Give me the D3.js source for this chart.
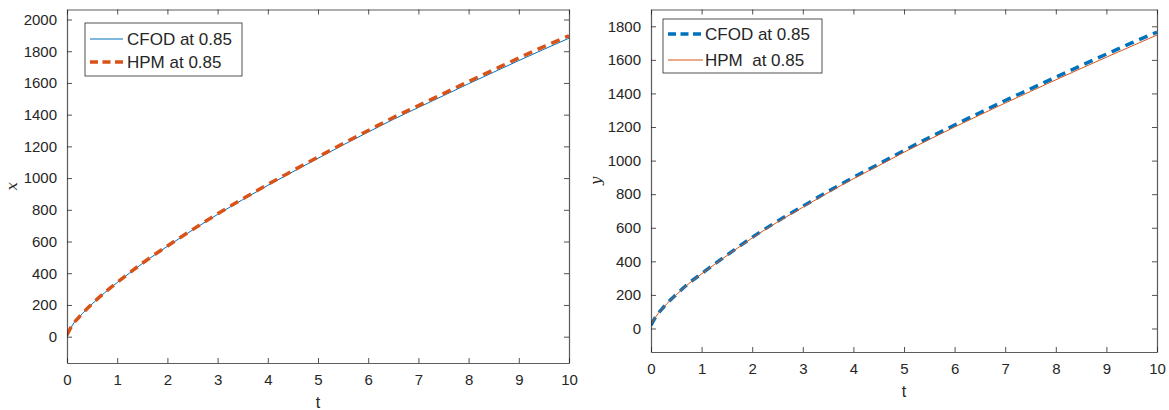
<!DOCTYPE html>
<html>
<head>
<meta charset="utf-8">
<script src="https://cdn.jsdelivr.net/npm/d3@7"></script>
<style>
  body { margin: 0; background: #fff; }
  svg text { font-family: "Liberation Sans", Arial, sans-serif; fill: #262626; }
</style>
</head>
<body>
<svg id="chart" width="1169" height="410"></svg>
<script>
const tValues = [0, 0.1, 0.25, 0.5, 0.75, 1, 1.5, 2, 2.5, 3, 3.5, 4, 4.5, 5, 5.5, 6, 6.5, 7, 7.5, 8, 8.5, 9, 9.5, 10];

// left panel: x(t)
const xCFOD = [0, 68, 126, 206, 277, 341, 461, 570, 672, 771, 864, 954, 1040, 1125, 1209, 1290, 1370, 1445, 1520, 1595, 1668, 1741, 1812, 1882];
const xHPM  = [10, 70, 127, 207, 278, 342, 463, 572, 675, 775, 869, 960, 1047, 1133, 1218, 1300, 1382, 1457, 1533, 1609, 1683, 1757, 1829, 1897];

// right panel: y(t)
const yCFOD = [20, 72, 128, 203, 270, 327, 437, 543, 639, 728, 816, 900, 979, 1060, 1137, 1212, 1285, 1358, 1427, 1497, 1566, 1634, 1701, 1765];
const yHPM  = [25, 72, 127, 201, 268, 325, 434, 539, 634, 722, 809, 892, 970, 1050, 1126, 1200, 1272, 1343, 1412, 1481, 1549, 1616, 1682, 1748];

const tTicks = [0, 1, 2, 3, 4, 5, 6, 7, 8, 9, 10];
const xTicks = [0, 200, 400, 600, 800, 1000, 1200, 1400, 1600, 1800, 2000];
const yTicks = [0, 200, 400, 600, 800, 1000, 1200, 1400, 1600, 1800];

const blue = "#0072BD";
const orange = "#D95319";
const axisColor = "#262626";

const svg = d3.select("#chart");

function drawPanel(opt) {
  const { left, right, top, bottom, yDomain, yTickVals, yLabel, series, legend, id } = opt;

  const x = d3.scaleLinear().domain([0, 10]).range([left, right]);
  const y = d3.scaleLinear().domain(yDomain).range([bottom, top]);

  const g = svg.append("g");

  g.append("clipPath").attr("id", id)
    .append("rect")
    .attr("x", left).attr("y", top)
    .attr("width", right - left).attr("height", bottom - top);

  const line = d3.line()
    .x((d, i) => x(tValues[i]))
    .y(d => y(d))
    .curve(d3.curveMonotoneX);

  series.forEach(s => {
    g.append("path")
      .datum(s.values)
      .attr("clip-path", `url(#${id})`)
      .attr("fill", "none")
      .attr("stroke", s.color)
      .attr("stroke-width", s.dashed ? 3.5 : 1)
      .attr("stroke-dasharray", s.dashed ? "9,6" : null)
      .attr("d", line);
  });

  // axes (MATLAB style box with inward ticks)
  const fmt = d3.format("d");
  const bottomAxis = d3.axisBottom(x).tickValues(tTicks).tickFormat(fmt).tickSizeInner(-5).tickSizeOuter(0).tickPadding(11);
  const topAxis = d3.axisTop(x).tickValues(tTicks).tickSizeInner(-5).tickSizeOuter(0).tickFormat("");
  const leftAxis = d3.axisLeft(y).tickValues(yTickVals).tickFormat(fmt).tickSizeInner(-5).tickSizeOuter(0).tickPadding(10);
  const rightAxis = d3.axisRight(y).tickValues(yTickVals).tickSizeInner(-5).tickSizeOuter(0).tickFormat("");

  const axes = [
    g.append("g").attr("transform", `translate(0,${bottom})`).call(bottomAxis),
    g.append("g").attr("transform", `translate(0,${top})`).call(topAxis),
    g.append("g").attr("transform", `translate(${left},0)`).call(leftAxis),
    g.append("g").attr("transform", `translate(${right},0)`).call(rightAxis)
  ];
  axes.forEach(a => {
    a.select(".domain").attr("stroke", axisColor).attr("stroke-width", 1.2).attr("opacity", 0.75);
    a.selectAll(".tick line").attr("stroke", axisColor).attr("stroke-width", 0.8);
    a.selectAll(".tick text")
      .style("font-family", "'Liberation Sans', Arial, sans-serif")
      .style("font-size", "15px")
      .attr("fill", "#3a3a3a");
  });

  g.append("text")
    .attr("x", (left + right) / 2)
    .attr("y", bottom + 45)
    .attr("text-anchor", "middle")
    .style("font-size", "16px")
    .text("t");

  g.append("text")
    .attr("transform", `translate(${left - 50},${(top + bottom) / 2}) rotate(-90)`)
    .attr("text-anchor", "middle")
    .style("font-family", "'DejaVu Serif', serif")
    .style("font-style", "italic")
    .style("font-size", "15px")
    .text(yLabel);

  // legend
  const lg = g.append("g");
  lg.append("rect")
    .attr("x", legend.x).attr("y", legend.y)
    .attr("width", legend.w).attr("height", legend.h)
    .attr("fill", "#fff")
    .attr("stroke", axisColor)
    .attr("stroke-width", 0.8);
  series.forEach((s, i) => {
    const ry = legend.rows[i];
    lg.append("line")
      .attr("x1", legend.x1).attr("x2", legend.x2)
      .attr("y1", ry).attr("y2", ry)
      .attr("stroke", s.color)
      .attr("stroke-width", s.dashed ? 3.5 : 1)
      .attr("stroke-dasharray", s.dashed ? "8,4.5" : null);
    lg.append("text")
      .attr("x", legend.tx).attr("y", ry + 6)
      .attr("xml:space", "preserve")
      .style("white-space", "pre")
      .style("font-size", "17px")
      .attr("fill", "#000")
      .text(s.name);
  });
}

drawPanel({
  id: "clipL",
  left: 67, right: 569, top: 9.5, bottom: 363,
  yDomain: [-166, 2063],
  yTickVals: xTicks,
  yLabel: "x",
  series: [
    { name: "CFOD at 0.85", values: xCFOD, color: blue, dashed: false },
    { name: "HPM at 0.85", values: xHPM, color: orange, dashed: true }
  ],
  legend: { x: 85, y: 23, w: 157, h: 53, x1: 90, x2: 123, tx: 127, rows: [39, 62] }
});

drawPanel({
  id: "clipR",
  left: 651, right: 1157, top: 9.5, bottom: 352,
  yDomain: [-140, 1900],
  yTickVals: yTicks,
  yLabel: "y",
  series: [
    { name: "CFOD at 0.85", values: yCFOD, color: blue, dashed: true },
    { name: "HPM  at 0.85", values: yHPM, color: orange, dashed: false }
  ],
  legend: { x: 663, y: 19, w: 159, h: 54, x1: 668, x2: 703, tx: 705, rows: [34, 60] }
});
</script>
</body>
</html>
